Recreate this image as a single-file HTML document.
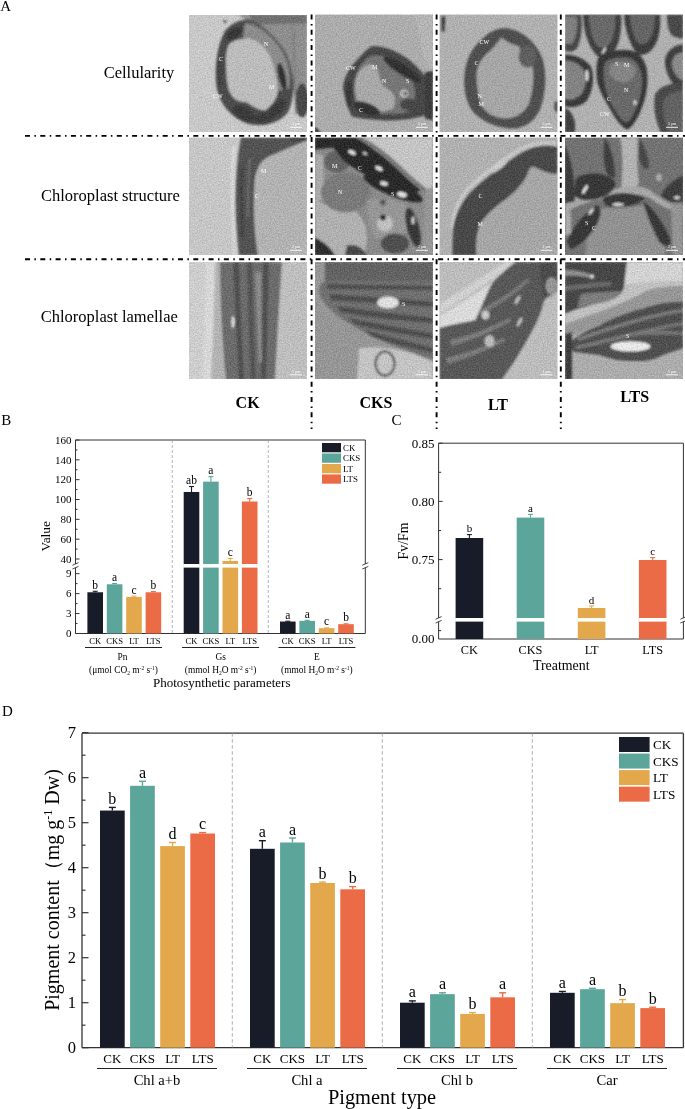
<!DOCTYPE html>
<html><head><meta charset="utf-8"><style>
html,body{margin:0;padding:0;background:#fff;}
body{width:685px;height:1109px;overflow:hidden;}
svg{display:block;will-change:transform;}
text{font-family:"Liberation Serif",serif;}
</style></head><body>
<svg width="685" height="1109" viewBox="0 0 685 1109" font-family="Liberation Serif, serif">
<text x="0.30" y="10.50" font-size="15" text-anchor="start" font-weight="normal" fill="#000" >A</text>
<text x="139.00" y="77.70" font-size="16.5" text-anchor="middle" font-weight="normal" fill="#000" >Cellularity</text>
<text x="110.40" y="201.00" font-size="16.5" text-anchor="middle" font-weight="normal" fill="#000" >Chloroplast structure</text>
<text x="109.30" y="322.00" font-size="16.5" text-anchor="middle" font-weight="normal" fill="#000" >Chloroplast lamellae</text>
<defs>
<filter id="b1" x="-5%" y="-5%" width="110%" height="110%"><feGaussianBlur stdDeviation="0.8"/></filter>
<filter id="tx" x="0" y="0" width="100%" height="100%" color-interpolation-filters="sRGB"><feTurbulence type="fractalNoise" baseFrequency="0.75" numOctaves="2" seed="5" result="n"/><feColorMatrix in="n" type="matrix" values="1 0 0 0 0  1 0 0 0 0  1 0 0 0 0  0 0 0 0 1" result="g"/><feComposite in="SourceGraphic" in2="g" operator="arithmetic" k1="0" k2="1" k3="0.26" k4="-0.13"/></filter>
</defs>
<svg x="189" y="14.5" width="118" height="117.5" viewBox="0 0 118 117.50" preserveAspectRatio="none" overflow="hidden"><g filter="url(#tx)">
<rect width="118" height="118" fill="rgb(200,200,200)"/>
<g filter="url(#b1)">
<path d="M48,0 L118,0 L118,98 L106,100 C106,80 104,60 98,44 C90,30 78,16 62,8 Z" fill="rgb(142,142,142)"/>
<path d="M60,0 L118,0 L118,9 L66,10 Z" fill="rgb(112,112,112)"/>
<path d="M37,15 C45,7 56,3 64,6 C80,14 94,30 100,46 C106,62 106,86 98,99 C88,110 72,113 58,109 C44,104 32,92 28,75 C25,58 27,30 37,15 Z" fill="rgb(76,76,76)"/>
<path d="M56,8 C72,12 86,24 94,38 C100,50 102,62 100,74 L90,76 C88,60 84,46 76,36 C70,30 62,26 54,24 Z" fill="rgb(140,140,140)"/>
<path d="M40,30 C44,26 50,24 60,24 C70,26 78,34 83,46 C86,56 89,66 89,76 C88,84 84,90 76,96 C70,96 64,92 58,88 C50,87 44,86 40,76 C37,66 37,52 37,44 C37,38 38,34 40,30 Z" fill="rgb(188,188,188)"/>
<path d="M62,8 C80,16 94,30 99,44 C103,56 105,68 106,80" fill="none" stroke="rgb(110,110,110)" stroke-width="1.6"/>
<path d="M104,6 L106,70" fill="none" stroke="rgb(125,125,125)" stroke-width="1.6"/>
<ellipse cx="55" cy="99" rx="12" ry="6.5" transform="rotate(30 55 99)" fill="rgb(58,58,58)"/>
<ellipse cx="74" cy="104" rx="9" ry="5" transform="rotate(-5 74 104)" fill="rgb(62,62,62)"/>
<ellipse cx="88" cy="94" rx="12" ry="5" transform="rotate(-50 88 94)" fill="rgb(58,58,58)"/>
<ellipse cx="93" cy="62" rx="3.6" ry="14" transform="rotate(-12 93 62)" fill="rgb(48,48,48)"/>
<ellipse cx="45" cy="19" rx="9" ry="5" transform="rotate(-35 45 19)" fill="rgb(55,55,55)"/>
<ellipse cx="31" cy="60" rx="3.5" ry="14" fill="rgb(68,68,68)"/>
<ellipse cx="113" cy="86" rx="6.5" ry="17" fill="rgb(72,72,72)"/>
<path d="M106,102 L118,106 L118,118 L100,118 Z" fill="rgb(200,200,200)"/>
<circle cx="36" cy="7" r="1.3" fill="rgb(40,40,40)"/>
</g>
<g fill="#fff" font-size="6"><text x="30" y="46">C</text><text x="24" y="83">CW</text><text x="75" y="31">N</text><text x="80" y="74">M</text></g>
</g><line x1="101" y1="112.8" x2="113" y2="112.8" stroke="#fff" stroke-width="0.9"/><text x="107" y="110.8" font-size="3.8" fill="#fff" text-anchor="middle">5 &#956;m</text></svg>
<svg x="315" y="14.5" width="118" height="117.5" viewBox="0 0 118 117.50" preserveAspectRatio="none" overflow="hidden"><g filter="url(#tx)">
<rect width="118" height="118" fill="rgb(172,172,172)"/>
<g filter="url(#b1)">
<path d="M100,0 L118,0 L118,60 L108,40 Z" fill="rgb(180,180,180)"/>
<path d="M56,32 C62,31 72,32 86,40 C98,47 106,56 112,64 L118,66 L118,104 L110,101 C100,104 85,106 70,106 C55,105 45,104 37,102 C33,95 30,85 28,74 C28,66 32,58 38,50 C44,43 50,36 56,32 Z" fill="rgb(70,70,70)"/>
<path d="M58,41 C66,40 76,44 84,50 C92,56 98,64 100,76 C101,86 98,94 92,98 C80,100 65,100 52,98 C44,96 40,90 39,80 C38,70 40,60 45,52 C49,46 53,42 58,41 Z" fill="rgb(118,118,118)"/>
<path d="M46,55 C52,48 58,48 62,55 C66,62 64,70 72,74 C80,78 82,86 78,94 C70,98 58,98 48,96 C42,90 40,80 40,70 C40,64 42,60 46,55 Z" fill="rgb(168,168,168)"/>
<ellipse cx="87" cy="55" rx="22" ry="5" transform="rotate(33 87 55)" fill="rgb(48,48,48)"/>
<ellipse cx="52" cy="94" rx="14" ry="5.5" transform="rotate(22 52 94)" fill="rgb(48,48,48)"/>
<ellipse cx="94" cy="90" rx="9" ry="6" fill="rgb(70,70,70)"/>
<ellipse cx="89" cy="79" rx="4" ry="4" fill="rgb(185,185,185)"/>
<ellipse cx="90" cy="79" rx="1.6" ry="1.6" fill="rgb(40,40,40)"/>
<ellipse cx="34" cy="80" rx="3" ry="13" fill="rgb(55,55,55)"/>
<path d="M110,58 L118,56 L118,106 L110,104 Z" fill="rgb(60,60,60)"/>
<path d="M0,112 L6,118 L0,118 Z" fill="rgb(40,40,40)"/>
</g>
<g fill="#fff" font-size="6"><text x="31" y="55">CW</text><text x="57" y="54">M</text><text x="67" y="68">N</text><text x="91" y="68">S</text><text x="44" y="97">C</text></g>
</g><line x1="101" y1="112.8" x2="113" y2="112.8" stroke="#fff" stroke-width="0.9"/><text x="107" y="110.8" font-size="3.8" fill="#fff" text-anchor="middle">5 &#956;m</text></svg>
<svg x="439.5" y="14.5" width="118.0" height="117.5" viewBox="0 0 118 117.50" preserveAspectRatio="none" overflow="hidden"><g filter="url(#tx)">
<rect width="118" height="118" fill="rgb(176,176,176)"/>
<g filter="url(#b1)">
<path d="M64,13.5 C80,14 96,26 103,44 C108,60 106,82 100,96 C94,108 84,114.5 72,114 C58,113 44,108 34,98 C26,88 24,74 25,60 C26,46 32,34 42,25 C48,19 56,14 64,13.5 Z" fill="rgb(80,80,80)"/>
<path d="M62,23 C66,27 72,30 80,32 C80,40 86,46 93,52 C95,64 93,80 89,90 C83,100 75,104 65,104 C55,103 47,99 42,91 C39,82 37,72 37,61 C37,51 43,42 51,36 C55,32 59,27 62,23 Z" fill="rgb(166,166,166)"/>
<ellipse cx="88" cy="42" rx="9" ry="11" fill="rgb(95,95,95)"/>
<path d="M2,2 L6,2 L5,17 L2,17 Z" fill="rgb(60,60,60)"/>
<path d="M115,88 L118,86 L118,98 L115,96 Z" fill="rgb(70,70,70)"/>
</g>
<g fill="#fff" font-size="6"><text x="40" y="29">CW</text><text x="35" y="50">C</text><text x="38" y="83">N</text><text x="39" y="91">M</text></g>
</g><line x1="101" y1="112.8" x2="113" y2="112.8" stroke="#fff" stroke-width="0.9"/><text x="107" y="110.8" font-size="3.8" fill="#fff" text-anchor="middle">5 &#956;m</text></svg>
<svg x="565" y="14.5" width="118" height="117.5" viewBox="0 0 118 117.50" preserveAspectRatio="none" overflow="hidden"><g filter="url(#tx)">
<rect width="118" height="118" fill="rgb(176,176,176)"/>
<g filter="url(#b1)">
<path d="M0,0 L16,0 C18,12 16,26 12,34 C8,38 4,38 0,36 Z" fill="rgb(73,73,73)"/>
<path d="M0,2 L12,2 C13,12 11,22 8,28 C5,30 2,30 0,28 Z" fill="rgb(128,128,128)"/>
<path d="M18,0 L56,0 C57,14 55,30 48,38 C44,43 38,45 33,42 C26,36 21,24 19,12 Z" fill="rgb(63,63,63)"/>
<path d="M24,0 L50,0 C51,12 49,24 44,30 C40,34 34,34 31,30 C27,24 25,14 24,6 Z" fill="rgb(105,105,105)"/>
<path d="M59,0 L95,0 C96,14 94,28 86,36 C82,40 76,42 72,39 C66,32 62,20 60,10 Z" fill="rgb(61,61,61)"/>
<path d="M65,0 L90,0 C90,12 88,22 82,28 C78,31 74,30 71,26 C68,20 66,12 65,4 Z" fill="rgb(101,101,101)"/>
<path d="M102,0 L118,0 L118,24 C112,24 106,22 104,16 C102,10 102,4 102,0 Z" fill="rgb(73,73,73)"/>
<path d="M34,42 C44,36 56,34 66,36 C74,38 80,44 82,56 C84,72 80,88 74,100 C70,108 66,114 62,115 C56,112 50,104 46,96 C40,86 34,76 32,66 C31,56 31,48 34,42 Z" fill="rgb(55,55,55)"/>
<path d="M40,48 C48,42 58,42 66,44 C74,48 77,56 77,68 C77,80 72,94 66,104 C62,110 58,108 54,102 C48,94 42,82 40,72 C38,62 38,54 40,48 Z" fill="rgb(105,105,105)"/>
<path d="M46,50 C54,46 64,46 70,52 C72,60 68,66 60,68 C52,68 46,64 44,58 Z" fill="rgb(133,133,133)"/>
<path d="M0,40 C10,40 20,44 26,52 C30,62 28,76 22,86 C16,92 8,94 0,92 Z" fill="rgb(59,59,59)"/>
<path d="M0,46 C8,46 16,50 20,58 C22,66 20,74 16,80 C10,86 4,86 0,84 Z" fill="rgb(131,131,131)"/>
<path d="M0,94 C4,94 8,100 10,108 L10,118 L0,118 Z" fill="rgb(63,63,63)"/>
<path d="M118,30 C110,30 102,36 100,44 C99,54 104,66 112,74 L118,76 Z" fill="rgb(65,65,65)"/>
<path d="M118,38 C112,38 108,42 107,48 C107,56 110,62 118,66 Z" fill="rgb(138,138,138)"/>
<path d="M118,68 C106,68 94,72 90,80 C88,92 90,106 96,118 L118,118 Z" fill="rgb(73,73,73)"/>
<path d="M118,76 C110,76 100,80 98,88 C97,98 100,108 104,118 L118,118 Z" fill="rgb(98,98,98)"/>
<ellipse cx="22" cy="61" rx="1.5" ry="6" fill="rgb(225,225,225)"/>
<ellipse cx="39" cy="36" rx="1.2" ry="4" transform="rotate(30 39 36)" fill="rgb(220,220,220)"/>
<ellipse cx="70" cy="88" rx="1.5" ry="2.5" fill="rgb(220,220,220)"/>
</g>
<g fill="#fff" font-size="6"><text x="50" y="51">S</text><text x="59" y="52">M</text><text x="59" y="77">N</text><text x="42" y="86">C</text><text x="35" y="101">CW</text></g>
</g><line x1="101" y1="112.8" x2="113" y2="112.8" stroke="#fff" stroke-width="0.9"/><text x="107" y="110.8" font-size="3.8" fill="#fff" text-anchor="middle">5 &#956;m</text></svg>
<svg x="189" y="137.5" width="118" height="117.5" viewBox="0 0 118 117.50" preserveAspectRatio="none" overflow="hidden"><g filter="url(#tx)">
<rect width="118" height="118" fill="rgb(198,198,198)"/>
<g filter="url(#b1)">
<path d="M64,0 L118,0 L118,118 L66,118 C64,100 62,80 62,60 C62,40 64,24 70,14 Z" fill="rgb(178,178,178)"/>
<path d="M52,0 L118,0 L118,3 C104,8 92,14 82,18 C72,22 68,30 66,40 C65,50 65,60 65,70 C65,84 66,100 69,118 L50,118 C48,100 46.5,80 46.5,60 C47,40 48,20 52,0 Z" fill="rgb(82,82,82)"/>
<path d="M100,0 L118,0 L118,3 L102,3 Z" fill="rgb(60,60,60)"/>
<path d="M43,10 C41.5,40 41.5,80 45,118 L47,118 C44,80 44,40 46.5,6 Z" fill="rgb(218,218,218)"/>
<path d="M60,20 C58,40 58,60 58,80 L60,80 C60,60 60,40 62,20 Z" fill="rgb(110,110,110)"/>
<path d="M52,30 C51,50 51,70 53,100 L55,100 C53,70 53,50 54,30 Z" fill="rgb(60,60,60)"/>
</g>
<g fill="#fff" font-size="6"><text x="72" y="35">M</text><text x="66" y="60">C</text></g>
</g><line x1="101" y1="112.8" x2="113" y2="112.8" stroke="#fff" stroke-width="0.9"/><text x="107" y="110.8" font-size="3.8" fill="#fff" text-anchor="middle">2 &#956;m</text></svg>
<svg x="315" y="137.5" width="118" height="117.5" viewBox="0 0 118 117.50" preserveAspectRatio="none" overflow="hidden"><g filter="url(#tx)">
<rect width="118" height="118" fill="rgb(138,138,138)"/>
<g filter="url(#b1)">
<path d="M0,16 L8,18 L9,62 L0,64 Z" fill="rgb(170,170,170)"/>
<path d="M0,62 C10,68 24,72 40,73 C48,80 52,90 52,100 L50,118 L0,118 Z" fill="rgb(176,176,176)"/>
<ellipse cx="31" cy="55" rx="25" ry="20" fill="rgb(122,122,122)"/>
<ellipse cx="22" cy="24" rx="13" ry="11" fill="rgb(100,100,100)"/>
<path d="M52,62 C62,60 76,62 90,66 C94,78 92,92 86,100 L60,100 C54,90 52,76 52,62 Z" fill="rgb(150,150,150)"/>
<ellipse cx="70" cy="86" rx="8" ry="8" fill="rgb(192,192,192)"/>
<path d="M110,52 L118,50 L118,118 L108,118 Z" fill="rgb(150,150,150)"/>
<path d="M43,0 L118,0 L118,49.5 L110,52 C106,49 100,44 92,37 C82,27 72,18 62,11 C56,6 50,3 43,0 Z" fill="rgb(196,196,196)"/>
<path d="M43,0 C50,3 56,6 62,11 C72,18 82,27 92,37 C100,44 106,49 111,53" fill="none" stroke="rgb(118,118,118)" stroke-width="3.5"/>
<path d="M0,0 L40,0 C48,4 54,8 60,13 C70,20 80,29 90,39 C96,45 102,49 106,53 C100,56 92,56 84,54 C72,50 62,44 52,38 C44,34 38,30 32,26 C26,22 22,14 18,10 L0,12 Z" fill="rgb(44,44,44)"/>
<ellipse cx="78" cy="51" rx="32" ry="7.5" transform="rotate(22 78 51)" fill="rgb(44,44,44)"/>
<ellipse cx="98" cy="90" rx="6" ry="20" transform="rotate(-15 98 90)" fill="rgb(55,55,55)"/>
<ellipse cx="80" cy="106" rx="14" ry="10" fill="rgb(80,80,80)"/>
<path d="M0,100 C8,104 16,110 20,118 L0,118 Z" fill="rgb(45,45,45)"/>
<path d="M32,108 C40,106 48,110 52,118 L30,118 Z" fill="rgb(70,70,70)"/>
<ellipse cx="37" cy="15" rx="4" ry="2" transform="rotate(25 37 15)" fill="rgb(225,225,225)"/>
<ellipse cx="50" cy="16" rx="2.5" ry="1.5" transform="rotate(25 50 16)" fill="rgb(200,200,200)"/>
<ellipse cx="64" cy="31" rx="4" ry="2" transform="rotate(25 64 31)" fill="rgb(225,225,225)"/>
<ellipse cx="69" cy="46" rx="4" ry="2" transform="rotate(15 69 46)" fill="rgb(225,225,225)"/>
<ellipse cx="87" cy="57" rx="5" ry="2.5" transform="rotate(15 87 57)" fill="rgb(228,228,228)"/>
<circle cx="68" cy="80" r="3" fill="rgb(40,40,40)"/>
<circle cx="68" cy="65" r="3" fill="rgb(90,90,90)"/>
<ellipse cx="98" cy="83" rx="1.5" ry="4" fill="rgb(210,210,210)"/>
</g>
<g fill="#fff" font-size="6"><text x="17" y="30">M</text><text x="43" y="32">C</text><text x="23" y="56">N</text><text x="76" y="58">S</text></g>
</g><line x1="101" y1="112.8" x2="113" y2="112.8" stroke="#fff" stroke-width="0.9"/><text x="107" y="110.8" font-size="3.8" fill="#fff" text-anchor="middle">2 &#956;m</text></svg>
<svg x="439.5" y="137.5" width="118.0" height="117.5" viewBox="0 0 118 117.50" preserveAspectRatio="none" overflow="hidden"><g filter="url(#tx)">
<rect width="118" height="118" fill="rgb(176,176,176)"/>
<g filter="url(#b1)">
<path d="M118,12 C100,8 84,16 70,26 C50,40 30,58 20,76 C16,90 14,104 13,118 L118,118 Z" fill="rgb(166,166,166)"/>
<path d="M118,10 C104,6 90,10 78,18 C60,30 44,42 30,56 C22,66 16,76 14,90 C13,100 13,110 13,118 L37,118 C36,106 37,96 40,88 C44,80 54,70 66,62 C76,54 84,46 88,36 C90,30 92,28 96,30 C104,34 112,37 118,36 Z" fill="rgb(74,74,74)"/>
<path d="M118,7 C104,4 90,8 78,15 C60,27 42,40 28,54 C20,64 15,76 13,90 L11,90 C12,76 18,62 26,52 C40,38 58,24 76,13 C90,5 104,2 118,5 Z" fill="rgb(205,205,205)"/>
<path d="M52,30 C58,26 64,24 68,24 C64,30 58,34 52,36 Z" fill="rgb(200,200,200)"/>
</g>
<g fill="#fff" font-size="6"><text x="39" y="60">C</text><text x="38" y="88">M</text></g>
</g><line x1="101" y1="112.8" x2="113" y2="112.8" stroke="#fff" stroke-width="0.9"/><text x="107" y="110.8" font-size="3.8" fill="#fff" text-anchor="middle">2 &#956;m</text></svg>
<svg x="565" y="137.5" width="118" height="117.5" viewBox="0 0 118 117.50" preserveAspectRatio="none" overflow="hidden"><g filter="url(#tx)">
<rect width="118" height="118" fill="rgb(114,114,114)"/>
<g filter="url(#b1)">
<path d="M55,0 L73,0 C72,16 72,32 74,46 C70,52 62,52 56,50 C58,34 58,16 55,0 Z" fill="rgb(178,178,178)"/>
<path d="M0,62 C16,58 36,54 56,50 C66,48 76,48 84,52 C92,58 100,64 110,68 L118,68 L118,74 C106,74 94,68 84,60 C74,56 62,56 50,58 C32,62 16,66 6,72 L0,78 Z" fill="rgb(168,168,168)"/>
<path d="M0,8 C6,20 10,40 10,64 L0,66 Z" fill="rgb(60,60,60)"/>
<path d="M12,40 C24,34 40,34 50,44 C52,52 44,58 30,62 C20,64 12,62 10,58 C10,50 10,44 12,40 Z" fill="rgb(55,55,55)"/>
<path d="M40,0 C46,10 50,24 50,40 C46,42 42,38 40,30 C38,20 38,10 40,0 Z" fill="rgb(65,65,65)"/>
<path d="M118,38 C108,42 100,50 96,58 C100,64 110,66 118,64 Z" fill="rgb(60,60,60)"/>
<path d="M74,0 C80,10 84,20 84,30 C80,34 76,28 74,20 Z" fill="rgb(70,70,70)"/>
<path d="M38,60 C50,54 66,54 80,60 C76,66 64,70 50,70 C42,70 38,66 38,60 Z" fill="rgb(55,55,55)"/>
<path d="M28,72 C44,70 62,70 80,68 C88,80 94,96 100,110 L100,118 L20,118 C22,100 24,86 28,72 Z" fill="rgb(145,145,145)"/>
<path d="M2,104 C8,90 18,76 32,68 C38,70 36,80 30,90 C24,100 14,108 6,112 Z" fill="rgb(55,55,55)"/>
<path d="M78,64 C88,70 98,84 106,104 C104,110 100,110 94,104 C88,92 82,80 78,64 Z" fill="rgb(55,55,55)"/>
<path d="M0,76 L6,74 L6,96 L0,98 Z" fill="rgb(170,170,170)"/>
<path d="M106,66 L118,66 L118,118 L108,118 Z" fill="rgb(148,148,148)"/>
<ellipse cx="53" cy="67" rx="6" ry="1.5" fill="rgb(230,230,230)"/>
<ellipse cx="20" cy="52" rx="1.6" ry="5" transform="rotate(30 20 52)" fill="rgb(230,230,230)"/>
<ellipse cx="26" cy="74" rx="1.5" ry="4" transform="rotate(35 26 74)" fill="rgb(220,220,220)"/>
<ellipse cx="94" cy="40" rx="3" ry="4" fill="rgb(170,170,170)"/>
<ellipse cx="112" cy="60" rx="3" ry="1.5" fill="rgb(220,220,220)"/>
</g>
<g fill="#fff" font-size="6"><text x="20" y="87">S</text><text x="27" y="92">C</text></g>
</g><line x1="101" y1="112.8" x2="113" y2="112.8" stroke="#fff" stroke-width="0.9"/><text x="107" y="110.8" font-size="3.8" fill="#fff" text-anchor="middle">2 &#956;m</text></svg>
<svg x="189" y="262" width="118" height="117" viewBox="0 0 118 117.00" preserveAspectRatio="none" overflow="hidden"><g filter="url(#tx)">
<rect width="118" height="118" fill="rgb(205,205,205)"/>
<g filter="url(#b1)">
<path d="M92,0 L118,0 L118,118 L86,118 Z" fill="rgb(190,190,190)"/>
<path d="M17,0 L26,0 L22,118 L14,118 Z" fill="rgb(215,215,215)"/>
<path d="M26,0 L32,0 C30,40 32,80 38,118 L22,118 C24,80 26,40 26,0 Z" fill="rgb(178,178,178)"/>
<path d="M31,0 L93,0 C90,40 88,80 86,118 L37,118 C33,80 31,40 31,0 Z" fill="rgb(108,108,108)"/>
<path d="M44,0 C46,40 48,80 50,118 L55,118 C53,80 51,40 50,0 Z" fill="rgb(80,80,80)"/>
<path d="M58,0 C59,40 60,80 62,118 L67,118 C65,80 64,40 63,0 Z" fill="rgb(82,82,82)"/>
<path d="M74,0 C74,40 73,80 72,118 L77,118 C78,80 79,40 80,0 Z" fill="rgb(80,80,80)"/>
<path d="M66,10 C68,40 68,70 70,100 L73,100 C72,70 72,40 72,10 Z" fill="rgb(140,140,140)"/>
<ellipse cx="44" cy="60" rx="1.5" ry="6" fill="rgb(230,230,230)"/>
</g>
</g><line x1="101" y1="112.8" x2="113" y2="112.8" stroke="#fff" stroke-width="0.9"/><text x="107" y="110.8" font-size="3.8" fill="#fff" text-anchor="middle">1 &#956;m</text></svg>
<svg x="315" y="262" width="118" height="117" viewBox="0 0 118 117.00" preserveAspectRatio="none" overflow="hidden"><g filter="url(#tx)">
<rect width="118" height="118" fill="rgb(150,150,150)"/>
<g filter="url(#b1)">
<path d="M10,0 L118,0 L118,24 L10,20 Z" fill="rgb(100,100,100)"/>
<path d="M44,86 C60,84 80,86 100,92 L118,100 L118,118 L42,118 Z" fill="rgb(195,195,195)"/>
<path d="M4,28 C4,22 8,19 14,19 L118,19 L118,98 C100,92 84,86 70,80 C50,72 30,60 16,48 C8,40 4,34 4,28 Z" fill="rgb(112,112,112)"/>
<path d="M12,22 L118,24 L118,28 L12,27 Z" fill="rgb(78,78,78)"/>
<path d="M14,32 C40,34 80,36 118,40 L118,45 C80,42 40,40 16,38 Z" fill="rgb(78,78,78)"/>
<path d="M22,44 C50,48 80,52 118,56 L118,61 C80,58 50,55 26,50 Z" fill="rgb(78,78,78)"/>
<path d="M34,56 C60,62 90,66 118,72 L118,77 C90,72 60,68 40,62 Z" fill="rgb(78,78,78)"/>
<path d="M50,68 C70,74 95,80 118,86 L118,91 C95,86 70,80 56,74 Z" fill="rgb(78,78,78)"/>
<ellipse cx="73" cy="40.5" rx="11" ry="6" fill="rgb(222,222,222)"/>
<ellipse cx="70" cy="101.6" rx="9.5" ry="12" fill="none" stroke="rgb(70,70,70)" stroke-width="2"/>
</g>
<g fill="#fff" font-size="6"><text x="87" y="44">S</text></g>
</g><line x1="101" y1="112.8" x2="113" y2="112.8" stroke="#fff" stroke-width="0.9"/><text x="107" y="110.8" font-size="3.8" fill="#fff" text-anchor="middle">1 &#956;m</text></svg>
<svg x="439.5" y="262" width="118.0" height="117" viewBox="0 0 118 117.00" preserveAspectRatio="none" overflow="hidden"><g filter="url(#tx)">
<rect width="118" height="118" fill="rgb(188,188,188)"/>
<g filter="url(#b1)">
<path d="M0,42 C20,30 44,14 66,0 L76,0 C56,16 34,30 0,52 Z" fill="rgb(208,208,208)"/>
<path d="M0,54 C14,46 30,36 50,22 C46,36 40,52 34,60 C24,62 10,64 0,66 Z" fill="rgb(218,218,218)"/>
<path d="M76,0 L118,0 L118,28 C110,32 106,36 104,40 C102,48 100,54 96,62 C90,74 84,84 78,94 C72,104 66,112 62,118 L0,118 L0,66 C14,62 28,60 36,58 C42,44 48,30 54,20 C62,12 70,4 76,0 Z" fill="rgb(88,88,88)"/>
<path d="M100,0 L118,0 L118,28 C114,34 108,36 104,34 C102,24 101,12 100,0 Z" fill="rgb(75,75,75)"/>
<path d="M10,78 C30,74 50,66 70,56 L72,59 C52,70 32,78 12,84 Z" fill="rgb(125,125,125)"/>
<path d="M6,96 C26,92 46,84 64,76 L66,79 C48,88 28,96 8,102 Z" fill="rgb(125,125,125)"/>
<path d="M40,48 C56,40 72,30 88,16 L90,19 C74,34 58,44 42,52 Z" fill="rgb(120,120,120)"/>
<ellipse cx="46" cy="53" rx="4" ry="4.5" fill="rgb(200,200,200)"/>
<ellipse cx="50" cy="79" rx="5" ry="6" fill="rgb(185,185,185)"/>
<ellipse cx="80" cy="60" rx="1.5" ry="5" transform="rotate(30 80 60)" fill="rgb(200,200,200)"/>
<ellipse cx="78" cy="38" rx="1.5" ry="5" transform="rotate(30 78 38)" fill="rgb(200,200,200)"/>
<ellipse cx="112" cy="24" rx="6" ry="9" fill="rgb(150,150,150)"/>
</g>
</g><line x1="101" y1="112.8" x2="113" y2="112.8" stroke="#fff" stroke-width="0.9"/><text x="107" y="110.8" font-size="3.8" fill="#fff" text-anchor="middle">1 &#956;m</text></svg>
<svg x="565" y="262" width="118" height="117" viewBox="0 0 118 117.00" preserveAspectRatio="none" overflow="hidden"><g filter="url(#tx)">
<rect width="118" height="118" fill="rgb(172,172,172)"/>
<g filter="url(#b1)">
<path d="M0,0 L118,0 L118,20 L62,23 Z" fill="rgb(210,210,210)"/>
<path d="M0,0 L62,0 C61,8 60,14 60,17 C59,24 58,28 57,30 C54,33 52,35 50,36 C46,38 43,39 40,40 C34,41 30,42 26,43 C20,45 15,47 10,48 L0,52 Z" fill="rgb(70,70,70)"/>
<path d="M0,8 C10,8 20,10 27,13 L26,16 C18,14 8,13 0,14 Z" fill="rgb(145,145,145)"/>
<path d="M0,24 C14,22 30,20 46,20 L46,24 C30,25 14,27 0,29 Z" fill="rgb(105,105,105)"/>
<path d="M16,32 C28,30 44,30 56,29 C54,34 48,38 40,40 C30,42 20,44 12,46 Z" fill="rgb(125,125,125)"/>
<circle cx="27" cy="14.6" r="2" fill="rgb(220,220,220)"/>
<path d="M0,52 L10,48 C20,45 30,42 40,40 C48,38 54,35 57,30 C60,26 62,24 64,22 C80,20 100,18 118,19 L118,24 C100,24 86,26 77,31 C62,40 40,48 0,62 Z" fill="rgb(192,192,192)"/>
<path d="M0,62 C40,48 62,40 77,31 C86,26 100,24 118,24 L118,40 C104,40 94,41 86,44 C70,48 52,55 34,63 C22,68 12,72 0,76 Z" fill="rgb(150,150,150)"/>
<path d="M6,80 C12,74 22,68 34,63.7 C40,60 46,57 52,55 C60,52 70,48 78,46.5 C86,44 94,41 104,40.5 C110,40 114,40 118,39.6 L118,86 C112,88 108,90 103,91 C92,96 84,99 78,99 C70,99 60,99 52,98 C44,96 38,94 34,93 C26,92 18,91 10,90 C6,88 5,84 6,80 Z" fill="rgb(80,80,80)"/>
<path d="M12,76 C40,66 80,52 118,47 L118,50 C80,56 40,70 14,79 Z" fill="rgb(125,125,125)"/>
<path d="M10,84 C40,78 80,66 118,60 L118,63 C80,70 40,82 12,87 Z" fill="rgb(120,120,120)"/>
<path d="M60,72 C80,68 100,68 118,70 L118,73 C100,72 80,72 62,75 Z" fill="rgb(118,118,118)"/>
<ellipse cx="65.5" cy="84.4" rx="20" ry="5.2" fill="rgb(232,232,232)"/>
<path d="M0,72 L7,70 L7,118 L0,118 Z" fill="rgb(62,62,62)"/>
</g>
<g fill="#fff" font-size="6"><text x="61" y="76">S</text></g>
</g><line x1="101" y1="112.8" x2="113" y2="112.8" stroke="#fff" stroke-width="0.9"/><text x="107" y="110.8" font-size="3.8" fill="#fff" text-anchor="middle">1 &#956;m</text></svg>
<text x="247.60" y="408.00" font-size="16" text-anchor="middle" font-weight="bold" fill="#000" >CK</text>
<text x="376.00" y="408.00" font-size="16" text-anchor="middle" font-weight="bold" fill="#000" >CKS</text>
<text x="498.00" y="410.00" font-size="16" text-anchor="middle" font-weight="bold" fill="#000" >LT</text>
<text x="634.70" y="402.40" font-size="16" text-anchor="middle" font-weight="bold" fill="#000" >LTS</text>
<line x1="311.60" y1="14.50" x2="311.60" y2="429.00" stroke="#000" stroke-width="1.9" stroke-dasharray="5 4.4 1.5 4.4"/>
<line x1="436.60" y1="14.50" x2="436.60" y2="429.00" stroke="#000" stroke-width="1.9" stroke-dasharray="5 4.4 1.5 4.4"/>
<line x1="560.80" y1="14.50" x2="560.80" y2="429.00" stroke="#000" stroke-width="1.9" stroke-dasharray="5 4.4 1.5 4.4"/>
<line x1="25.00" y1="135.90" x2="685.00" y2="135.90" stroke="#000" stroke-width="1.9" stroke-dasharray="5 4.4 1.5 4.4"/>
<line x1="25.00" y1="259.20" x2="685.00" y2="259.20" stroke="#000" stroke-width="1.9" stroke-dasharray="5 4.4 1.5 4.4"/>
<text x="1.20" y="425.00" font-size="15" text-anchor="start" font-weight="normal" fill="#000" >B</text>
<line x1="75.50" y1="440.00" x2="365.30" y2="440.00" stroke="#333" stroke-width="1" />
<line x1="365.30" y1="440.00" x2="365.30" y2="564.00" stroke="#333" stroke-width="1" />
<line x1="365.30" y1="567.60" x2="365.30" y2="633.50" stroke="#333" stroke-width="1" />
<line x1="75.50" y1="440.00" x2="75.50" y2="564.00" stroke="#333" stroke-width="1" />
<line x1="75.50" y1="567.60" x2="75.50" y2="633.50" stroke="#333" stroke-width="1" />
<line x1="75.50" y1="633.50" x2="365.30" y2="633.50" stroke="#333" stroke-width="1" />
<line x1="72.50" y1="565.20" x2="78.50" y2="562.60" stroke="#333" stroke-width="0.9" />
<line x1="72.50" y1="569.00" x2="78.50" y2="566.40" stroke="#333" stroke-width="0.9" />
<line x1="362.30" y1="565.20" x2="368.30" y2="562.60" stroke="#333" stroke-width="0.9" />
<line x1="362.30" y1="569.00" x2="368.30" y2="566.40" stroke="#333" stroke-width="0.9" />
<line x1="75.50" y1="559.00" x2="79.50" y2="559.00" stroke="#333" stroke-width="1" />
<text x="71.50" y="562.80" font-size="11" text-anchor="end" font-weight="normal" fill="#000" >40</text>
<line x1="75.50" y1="539.17" x2="79.50" y2="539.17" stroke="#333" stroke-width="1" />
<text x="71.50" y="542.97" font-size="11" text-anchor="end" font-weight="normal" fill="#000" >60</text>
<line x1="75.50" y1="519.33" x2="79.50" y2="519.33" stroke="#333" stroke-width="1" />
<text x="71.50" y="523.13" font-size="11" text-anchor="end" font-weight="normal" fill="#000" >80</text>
<line x1="75.50" y1="499.50" x2="79.50" y2="499.50" stroke="#333" stroke-width="1" />
<text x="71.50" y="503.30" font-size="11" text-anchor="end" font-weight="normal" fill="#000" >100</text>
<line x1="75.50" y1="479.67" x2="79.50" y2="479.67" stroke="#333" stroke-width="1" />
<text x="71.50" y="483.47" font-size="11" text-anchor="end" font-weight="normal" fill="#000" >120</text>
<line x1="75.50" y1="459.83" x2="79.50" y2="459.83" stroke="#333" stroke-width="1" />
<text x="71.50" y="463.63" font-size="11" text-anchor="end" font-weight="normal" fill="#000" >140</text>
<line x1="75.50" y1="440.00" x2="79.50" y2="440.00" stroke="#333" stroke-width="1" />
<text x="71.50" y="443.80" font-size="11" text-anchor="end" font-weight="normal" fill="#000" >160</text>
<line x1="75.50" y1="549.08" x2="77.50" y2="549.08" stroke="#333" stroke-width="1" />
<line x1="75.50" y1="529.25" x2="77.50" y2="529.25" stroke="#333" stroke-width="1" />
<line x1="75.50" y1="509.42" x2="77.50" y2="509.42" stroke="#333" stroke-width="1" />
<line x1="75.50" y1="489.58" x2="77.50" y2="489.58" stroke="#333" stroke-width="1" />
<line x1="75.50" y1="469.75" x2="77.50" y2="469.75" stroke="#333" stroke-width="1" />
<line x1="75.50" y1="449.92" x2="77.50" y2="449.92" stroke="#333" stroke-width="1" />
<line x1="75.50" y1="633.50" x2="79.50" y2="633.50" stroke="#333" stroke-width="1" />
<text x="71.50" y="637.30" font-size="11" text-anchor="end" font-weight="normal" fill="#000" >0</text>
<line x1="75.50" y1="613.55" x2="79.50" y2="613.55" stroke="#333" stroke-width="1" />
<text x="71.50" y="617.35" font-size="11" text-anchor="end" font-weight="normal" fill="#000" >3</text>
<line x1="75.50" y1="593.60" x2="79.50" y2="593.60" stroke="#333" stroke-width="1" />
<text x="71.50" y="597.40" font-size="11" text-anchor="end" font-weight="normal" fill="#000" >6</text>
<line x1="75.50" y1="573.65" x2="79.50" y2="573.65" stroke="#333" stroke-width="1" />
<text x="71.50" y="577.45" font-size="11" text-anchor="end" font-weight="normal" fill="#000" >9</text>
<line x1="75.50" y1="623.52" x2="77.50" y2="623.52" stroke="#333" stroke-width="1" />
<line x1="75.50" y1="603.58" x2="77.50" y2="603.58" stroke="#333" stroke-width="1" />
<line x1="75.50" y1="583.62" x2="77.50" y2="583.62" stroke="#333" stroke-width="1" />
<line x1="172.30" y1="440.00" x2="172.30" y2="633.50" stroke="#999" stroke-width="0.7" stroke-dasharray="3 2"/>
<line x1="268.30" y1="440.00" x2="268.30" y2="633.50" stroke="#999" stroke-width="0.7" stroke-dasharray="3 2"/>
<rect x="87.40" y="592.27" width="15.60" height="41.23" fill="#171c28" />
<line x1="95.20" y1="592.27" x2="95.20" y2="591.27" stroke="#171c28" stroke-width="1.1" />
<line x1="92.70" y1="591.27" x2="97.70" y2="591.27" stroke="#171c28" stroke-width="1.1" />
<text x="95.20" y="588.67" font-size="11.5" text-anchor="middle" font-weight="normal" fill="#000" >b</text>
<text x="95.20" y="643.60" font-size="8.6" text-anchor="middle" font-weight="normal" fill="#000" >CK</text>
<rect x="106.80" y="584.29" width="15.60" height="49.21" fill="#5ba59a" />
<line x1="114.60" y1="584.29" x2="114.60" y2="583.49" stroke="#5ba59a" stroke-width="1.1" />
<line x1="112.10" y1="583.49" x2="117.10" y2="583.49" stroke="#5ba59a" stroke-width="1.1" />
<text x="114.60" y="580.89" font-size="11.5" text-anchor="middle" font-weight="normal" fill="#000" >a</text>
<text x="114.60" y="643.60" font-size="8.6" text-anchor="middle" font-weight="normal" fill="#000" >CKS</text>
<rect x="126.20" y="596.92" width="15.60" height="36.58" fill="#e3a84b" />
<line x1="134.00" y1="596.92" x2="134.00" y2="596.13" stroke="#e3a84b" stroke-width="1.1" />
<line x1="131.50" y1="596.13" x2="136.50" y2="596.13" stroke="#e3a84b" stroke-width="1.1" />
<text x="134.00" y="593.53" font-size="11.5" text-anchor="middle" font-weight="normal" fill="#000" >c</text>
<text x="134.00" y="643.60" font-size="8.6" text-anchor="middle" font-weight="normal" fill="#000" >LT</text>
<rect x="145.60" y="592.27" width="15.60" height="41.23" fill="#ec6b47" />
<line x1="153.40" y1="592.27" x2="153.40" y2="591.61" stroke="#ec6b47" stroke-width="1.1" />
<line x1="150.90" y1="591.61" x2="155.90" y2="591.61" stroke="#ec6b47" stroke-width="1.1" />
<text x="153.40" y="589.00" font-size="11.5" text-anchor="middle" font-weight="normal" fill="#000" >b</text>
<text x="153.40" y="643.60" font-size="8.6" text-anchor="middle" font-weight="normal" fill="#000" >LTS</text>
<rect x="183.70" y="491.96" width="15.60" height="141.54" fill="#171c28" />
<rect x="183.20" y="564.00" width="16.60" height="3.60" fill="#fff" />
<line x1="191.50" y1="491.96" x2="191.50" y2="486.51" stroke="#171c28" stroke-width="1.1" />
<line x1="189.00" y1="486.51" x2="194.00" y2="486.51" stroke="#171c28" stroke-width="1.1" />
<text x="191.50" y="483.91" font-size="11.5" text-anchor="middle" font-weight="normal" fill="#000" >ab</text>
<text x="191.50" y="643.60" font-size="8.6" text-anchor="middle" font-weight="normal" fill="#000" >CK</text>
<rect x="203.10" y="481.65" width="15.60" height="151.85" fill="#5ba59a" />
<rect x="202.60" y="564.00" width="16.60" height="3.60" fill="#fff" />
<line x1="210.90" y1="481.65" x2="210.90" y2="476.69" stroke="#5ba59a" stroke-width="1.1" />
<line x1="208.40" y1="476.69" x2="213.40" y2="476.69" stroke="#5ba59a" stroke-width="1.1" />
<text x="210.90" y="474.09" font-size="11.5" text-anchor="middle" font-weight="normal" fill="#000" >a</text>
<text x="210.90" y="643.60" font-size="8.6" text-anchor="middle" font-weight="normal" fill="#000" >CKS</text>
<rect x="222.50" y="560.98" width="15.60" height="72.52" fill="#e3a84b" />
<rect x="222.00" y="564.00" width="16.60" height="3.60" fill="#fff" />
<line x1="230.30" y1="560.98" x2="230.30" y2="558.50" stroke="#e3a84b" stroke-width="1.1" />
<line x1="227.80" y1="558.50" x2="232.80" y2="558.50" stroke="#e3a84b" stroke-width="1.1" />
<text x="230.30" y="555.90" font-size="11.5" text-anchor="middle" font-weight="normal" fill="#000" >c</text>
<text x="230.30" y="643.60" font-size="8.6" text-anchor="middle" font-weight="normal" fill="#000" >LT</text>
<rect x="241.90" y="501.48" width="15.60" height="132.02" fill="#ec6b47" />
<rect x="241.40" y="564.00" width="16.60" height="3.60" fill="#fff" />
<line x1="249.70" y1="501.48" x2="249.70" y2="498.51" stroke="#ec6b47" stroke-width="1.1" />
<line x1="247.20" y1="498.51" x2="252.20" y2="498.51" stroke="#ec6b47" stroke-width="1.1" />
<text x="249.70" y="495.91" font-size="11.5" text-anchor="middle" font-weight="normal" fill="#000" >b</text>
<text x="249.70" y="643.60" font-size="8.6" text-anchor="middle" font-weight="normal" fill="#000" >LTS</text>
<rect x="280.00" y="621.53" width="15.60" height="11.97" fill="#171c28" />
<line x1="287.80" y1="621.53" x2="287.80" y2="621.20" stroke="#171c28" stroke-width="1.1" />
<line x1="285.30" y1="621.20" x2="290.30" y2="621.20" stroke="#171c28" stroke-width="1.1" />
<text x="287.80" y="618.60" font-size="11.5" text-anchor="middle" font-weight="normal" fill="#000" >a</text>
<text x="287.80" y="643.60" font-size="8.6" text-anchor="middle" font-weight="normal" fill="#000" >CK</text>
<rect x="299.40" y="620.87" width="15.60" height="12.63" fill="#5ba59a" />
<line x1="307.20" y1="620.87" x2="307.20" y2="620.33" stroke="#5ba59a" stroke-width="1.1" />
<line x1="304.70" y1="620.33" x2="309.70" y2="620.33" stroke="#5ba59a" stroke-width="1.1" />
<text x="307.20" y="617.73" font-size="11.5" text-anchor="middle" font-weight="normal" fill="#000" >a</text>
<text x="307.20" y="643.60" font-size="8.6" text-anchor="middle" font-weight="normal" fill="#000" >CKS</text>
<rect x="318.80" y="628.18" width="15.60" height="5.32" fill="#e3a84b" />
<line x1="326.60" y1="628.18" x2="326.60" y2="627.85" stroke="#e3a84b" stroke-width="1.1" />
<line x1="324.10" y1="627.85" x2="329.10" y2="627.85" stroke="#e3a84b" stroke-width="1.1" />
<text x="326.60" y="625.25" font-size="11.5" text-anchor="middle" font-weight="normal" fill="#000" >c</text>
<text x="326.60" y="643.60" font-size="8.6" text-anchor="middle" font-weight="normal" fill="#000" >LT</text>
<rect x="338.20" y="624.19" width="15.60" height="9.31" fill="#ec6b47" />
<line x1="346.00" y1="624.19" x2="346.00" y2="623.79" stroke="#ec6b47" stroke-width="1.1" />
<line x1="343.50" y1="623.79" x2="348.50" y2="623.79" stroke="#ec6b47" stroke-width="1.1" />
<text x="346.00" y="621.19" font-size="11.5" text-anchor="middle" font-weight="normal" fill="#000" >b</text>
<text x="346.00" y="643.60" font-size="8.6" text-anchor="middle" font-weight="normal" fill="#000" >LTS</text>
<line x1="85.00" y1="647.50" x2="162.00" y2="647.50" stroke="#222" stroke-width="1" />
<text x="122.50" y="660.00" font-size="9.4" text-anchor="middle" font-weight="normal" fill="#000" >Pn</text>
<text x="123.50" y="673.20" font-size="9.4" text-anchor="middle" font-weight="normal" fill="#000" >(&#956;mol CO<tspan font-size="5.5" dy="1.5">2</tspan><tspan dy="-1.5"> m</tspan><tspan font-size="5.5" dy="-3">-2</tspan><tspan dy="3"> s</tspan><tspan font-size="5.5" dy="-3">-1</tspan><tspan dy="3">)</tspan></text>
<line x1="182.10" y1="647.50" x2="259.10" y2="647.50" stroke="#222" stroke-width="1" />
<text x="220.60" y="660.00" font-size="9.4" text-anchor="middle" font-weight="normal" fill="#000" >Gs</text>
<text x="220.60" y="673.20" font-size="9.4" text-anchor="middle" font-weight="normal" fill="#000" >(mmol H<tspan font-size="5.5" dy="1.5">2</tspan><tspan dy="-1.5">O m</tspan><tspan font-size="5.5" dy="-3">-2</tspan><tspan dy="3"> s</tspan><tspan font-size="5.5" dy="-3">-1</tspan><tspan dy="3">)</tspan></text>
<line x1="278.40" y1="647.50" x2="355.40" y2="647.50" stroke="#222" stroke-width="1" />
<text x="316.90" y="660.00" font-size="9.4" text-anchor="middle" font-weight="normal" fill="#000" >E</text>
<text x="316.90" y="673.20" font-size="9.4" text-anchor="middle" font-weight="normal" fill="#000" >(mmol H<tspan font-size="5.5" dy="1.5">2</tspan><tspan dy="-1.5">O m</tspan><tspan font-size="5.5" dy="-3">-2</tspan><tspan dy="3"> s</tspan><tspan font-size="5.5" dy="-3">-1</tspan><tspan dy="3">)</tspan></text>
<text x="221.70" y="686.70" font-size="13" text-anchor="middle" font-weight="normal" fill="#000" >Photosynthetic parameters</text>
<text x="0.00" y="0.00" font-size="13.4" text-anchor="middle" font-weight="normal" fill="#000" transform="translate(50.2,536.3) rotate(-90)">Value</text>
<rect x="322.00" y="443.00" width="19.00" height="9.30" fill="#171c28" />
<text x="343.00" y="450.70" font-size="8.9" text-anchor="start" font-weight="normal" fill="#000" >CK</text>
<rect x="322.00" y="453.47" width="19.00" height="9.30" fill="#5ba59a" />
<text x="343.00" y="461.17" font-size="8.9" text-anchor="start" font-weight="normal" fill="#000" >CKS</text>
<rect x="322.00" y="463.94" width="19.00" height="9.30" fill="#e3a84b" />
<text x="343.00" y="471.64" font-size="8.9" text-anchor="start" font-weight="normal" fill="#000" >LT</text>
<rect x="322.00" y="474.41" width="19.00" height="9.30" fill="#ec6b47" />
<text x="343.00" y="482.11" font-size="8.9" text-anchor="start" font-weight="normal" fill="#000" >LTS</text>
<text x="391.50" y="425.20" font-size="15" text-anchor="start" font-weight="normal" fill="#000" >C</text>
<line x1="438.60" y1="443.20" x2="683.40" y2="443.20" stroke="#333" stroke-width="1" />
<line x1="683.40" y1="443.20" x2="683.40" y2="618.00" stroke="#333" stroke-width="1" />
<line x1="683.40" y1="621.60" x2="683.40" y2="639.00" stroke="#333" stroke-width="1" />
<line x1="438.60" y1="443.20" x2="438.60" y2="618.00" stroke="#333" stroke-width="1" />
<line x1="438.60" y1="621.60" x2="438.60" y2="639.00" stroke="#333" stroke-width="1" />
<line x1="438.60" y1="639.00" x2="683.40" y2="639.00" stroke="#333" stroke-width="1" />
<line x1="435.60" y1="619.20" x2="441.60" y2="616.60" stroke="#333" stroke-width="0.9" />
<line x1="435.60" y1="623.00" x2="441.60" y2="620.40" stroke="#333" stroke-width="0.9" />
<line x1="680.40" y1="619.20" x2="686.40" y2="616.60" stroke="#333" stroke-width="0.9" />
<line x1="680.40" y1="623.00" x2="686.40" y2="620.40" stroke="#333" stroke-width="0.9" />
<line x1="438.60" y1="443.20" x2="442.60" y2="443.20" stroke="#333" stroke-width="1" />
<text x="434.60" y="447.60" font-size="13" text-anchor="end" font-weight="normal" fill="#000" >0.85</text>
<line x1="438.60" y1="501.40" x2="442.60" y2="501.40" stroke="#333" stroke-width="1" />
<text x="434.60" y="505.80" font-size="13" text-anchor="end" font-weight="normal" fill="#000" >0.80</text>
<line x1="438.60" y1="559.60" x2="442.60" y2="559.60" stroke="#333" stroke-width="1" />
<text x="434.60" y="564.00" font-size="13" text-anchor="end" font-weight="normal" fill="#000" >0.75</text>
<line x1="438.60" y1="472.30" x2="441.10" y2="472.30" stroke="#333" stroke-width="1" />
<line x1="438.60" y1="530.50" x2="441.10" y2="530.50" stroke="#333" stroke-width="1" />
<line x1="438.60" y1="588.70" x2="441.10" y2="588.70" stroke="#333" stroke-width="1" />
<line x1="438.60" y1="630.60" x2="441.10" y2="630.60" stroke="#333" stroke-width="1" />
<text x="434.60" y="643.40" font-size="13" text-anchor="end" font-weight="normal" fill="#000" >0.00</text>
<rect x="455.60" y="538.00" width="27.60" height="101.00" fill="#171c28" />
<rect x="455.10" y="618.00" width="28.60" height="3.60" fill="#fff" />
<line x1="469.40" y1="538.00" x2="469.40" y2="534.60" stroke="#171c28" stroke-width="1.1" />
<line x1="466.90" y1="534.60" x2="471.90" y2="534.60" stroke="#171c28" stroke-width="1.1" />
<text x="469.40" y="532.40" font-size="11" text-anchor="middle" font-weight="normal" fill="#000" >b</text>
<text x="469.40" y="654.00" font-size="12.3" text-anchor="middle" font-weight="normal" fill="#000" >CK</text>
<rect x="516.70" y="517.60" width="27.60" height="121.40" fill="#5ba59a" />
<rect x="516.20" y="618.00" width="28.60" height="3.60" fill="#fff" />
<line x1="530.50" y1="517.60" x2="530.50" y2="514.40" stroke="#5ba59a" stroke-width="1.1" />
<line x1="528.00" y1="514.40" x2="533.00" y2="514.40" stroke="#5ba59a" stroke-width="1.1" />
<text x="530.50" y="512.20" font-size="11" text-anchor="middle" font-weight="normal" fill="#000" >a</text>
<text x="530.50" y="654.00" font-size="12.3" text-anchor="middle" font-weight="normal" fill="#000" >CKS</text>
<rect x="577.80" y="608.00" width="27.60" height="31.00" fill="#e3a84b" />
<rect x="577.30" y="618.00" width="28.60" height="3.60" fill="#fff" />
<line x1="591.60" y1="608.00" x2="591.60" y2="606.00" stroke="#e3a84b" stroke-width="1.1" />
<line x1="589.10" y1="606.00" x2="594.10" y2="606.00" stroke="#e3a84b" stroke-width="1.1" />
<text x="591.60" y="603.80" font-size="11" text-anchor="middle" font-weight="normal" fill="#000" >d</text>
<text x="591.60" y="654.00" font-size="12.3" text-anchor="middle" font-weight="normal" fill="#000" >LT</text>
<rect x="638.90" y="560.00" width="27.60" height="79.00" fill="#ec6b47" />
<rect x="638.40" y="618.00" width="28.60" height="3.60" fill="#fff" />
<line x1="652.70" y1="560.00" x2="652.70" y2="557.60" stroke="#ec6b47" stroke-width="1.1" />
<line x1="650.20" y1="557.60" x2="655.20" y2="557.60" stroke="#ec6b47" stroke-width="1.1" />
<text x="652.70" y="555.40" font-size="11" text-anchor="middle" font-weight="normal" fill="#000" >c</text>
<text x="652.70" y="654.00" font-size="12.3" text-anchor="middle" font-weight="normal" fill="#000" >LTS</text>
<text x="561.30" y="669.60" font-size="13.9" text-anchor="middle" font-weight="normal" fill="#000" >Treatment</text>
<text x="0.00" y="0.00" font-size="13.8" text-anchor="middle" font-weight="normal" fill="#000" transform="translate(407.8,541) rotate(-90)">Fv/Fm</text>
<text x="2.00" y="715.60" font-size="15" text-anchor="start" font-weight="normal" fill="#000" >D</text>
<line x1="82.00" y1="733.20" x2="683.40" y2="733.20" stroke="#333" stroke-width="1.3" />
<line x1="683.40" y1="733.20" x2="683.40" y2="1047.70" stroke="#333" stroke-width="1.3" />
<line x1="82.00" y1="733.20" x2="82.00" y2="1047.70" stroke="#333" stroke-width="1.3" />
<line x1="82.00" y1="1047.70" x2="683.40" y2="1047.70" stroke="#333" stroke-width="1.3" />
<line x1="82.00" y1="1047.70" x2="88.50" y2="1047.70" stroke="#333" stroke-width="1.2" />
<text x="76.00" y="1053.30" font-size="16.5" text-anchor="end" font-weight="normal" fill="#000" >0</text>
<line x1="82.00" y1="1002.70" x2="88.50" y2="1002.70" stroke="#333" stroke-width="1.2" />
<text x="76.00" y="1008.30" font-size="16.5" text-anchor="end" font-weight="normal" fill="#000" >1</text>
<line x1="82.00" y1="957.70" x2="88.50" y2="957.70" stroke="#333" stroke-width="1.2" />
<text x="76.00" y="963.30" font-size="16.5" text-anchor="end" font-weight="normal" fill="#000" >2</text>
<line x1="82.00" y1="912.70" x2="88.50" y2="912.70" stroke="#333" stroke-width="1.2" />
<text x="76.00" y="918.30" font-size="16.5" text-anchor="end" font-weight="normal" fill="#000" >3</text>
<line x1="82.00" y1="867.70" x2="88.50" y2="867.70" stroke="#333" stroke-width="1.2" />
<text x="76.00" y="873.30" font-size="16.5" text-anchor="end" font-weight="normal" fill="#000" >4</text>
<line x1="82.00" y1="822.70" x2="88.50" y2="822.70" stroke="#333" stroke-width="1.2" />
<text x="76.00" y="828.30" font-size="16.5" text-anchor="end" font-weight="normal" fill="#000" >5</text>
<line x1="82.00" y1="777.70" x2="88.50" y2="777.70" stroke="#333" stroke-width="1.2" />
<text x="76.00" y="783.30" font-size="16.5" text-anchor="end" font-weight="normal" fill="#000" >6</text>
<line x1="82.00" y1="732.70" x2="88.50" y2="732.70" stroke="#333" stroke-width="1.2" />
<text x="76.00" y="738.30" font-size="16.5" text-anchor="end" font-weight="normal" fill="#000" >7</text>
<line x1="82.00" y1="1025.20" x2="85.50" y2="1025.20" stroke="#333" stroke-width="1.2" />
<line x1="82.00" y1="980.20" x2="85.50" y2="980.20" stroke="#333" stroke-width="1.2" />
<line x1="82.00" y1="935.20" x2="85.50" y2="935.20" stroke="#333" stroke-width="1.2" />
<line x1="82.00" y1="890.20" x2="85.50" y2="890.20" stroke="#333" stroke-width="1.2" />
<line x1="82.00" y1="845.20" x2="85.50" y2="845.20" stroke="#333" stroke-width="1.2" />
<line x1="82.00" y1="800.20" x2="85.50" y2="800.20" stroke="#333" stroke-width="1.2" />
<line x1="82.00" y1="755.20" x2="85.50" y2="755.20" stroke="#333" stroke-width="1.2" />
<line x1="232.30" y1="733.20" x2="232.30" y2="1047.70" stroke="#999" stroke-width="0.8" stroke-dasharray="3.5 2.5"/>
<line x1="382.30" y1="733.20" x2="382.30" y2="1047.70" stroke="#999" stroke-width="0.8" stroke-dasharray="3.5 2.5"/>
<line x1="532.30" y1="733.20" x2="532.30" y2="1047.70" stroke="#999" stroke-width="0.8" stroke-dasharray="3.5 2.5"/>
<rect x="100.00" y="810.55" width="24.70" height="237.15" fill="#171c28" />
<line x1="112.35" y1="810.55" x2="112.35" y2="807.40" stroke="#171c28" stroke-width="1.4" />
<line x1="108.85" y1="807.40" x2="115.85" y2="807.40" stroke="#171c28" stroke-width="1.4" />
<text x="112.35" y="803.90" font-size="16" text-anchor="middle" font-weight="normal" fill="#000" >b</text>
<text x="112.35" y="1062.60" font-size="13" text-anchor="middle" font-weight="normal" fill="#000" >CK</text>
<rect x="130.10" y="785.80" width="24.70" height="261.90" fill="#5ba59a" />
<line x1="142.45" y1="785.80" x2="142.45" y2="781.30" stroke="#5ba59a" stroke-width="1.4" />
<line x1="138.95" y1="781.30" x2="145.95" y2="781.30" stroke="#5ba59a" stroke-width="1.4" />
<text x="142.45" y="777.80" font-size="16" text-anchor="middle" font-weight="normal" fill="#000" >a</text>
<text x="142.45" y="1062.60" font-size="13" text-anchor="middle" font-weight="normal" fill="#000" >CKS</text>
<rect x="160.20" y="846.10" width="24.70" height="201.60" fill="#e3a84b" />
<line x1="172.55" y1="846.10" x2="172.55" y2="842.50" stroke="#e3a84b" stroke-width="1.4" />
<line x1="169.05" y1="842.50" x2="176.05" y2="842.50" stroke="#e3a84b" stroke-width="1.4" />
<text x="172.55" y="839.00" font-size="16" text-anchor="middle" font-weight="normal" fill="#000" >d</text>
<text x="172.55" y="1062.60" font-size="13" text-anchor="middle" font-weight="normal" fill="#000" >LT</text>
<rect x="190.30" y="833.50" width="24.70" height="214.20" fill="#ec6b47" />
<line x1="202.65" y1="833.50" x2="202.65" y2="832.60" stroke="#ec6b47" stroke-width="1.4" />
<line x1="199.15" y1="832.60" x2="206.15" y2="832.60" stroke="#ec6b47" stroke-width="1.4" />
<text x="202.65" y="829.10" font-size="16" text-anchor="middle" font-weight="normal" fill="#000" >c</text>
<text x="202.65" y="1062.60" font-size="13" text-anchor="middle" font-weight="normal" fill="#000" >LTS</text>
<rect x="250.00" y="848.80" width="24.70" height="198.90" fill="#171c28" />
<line x1="262.35" y1="848.80" x2="262.35" y2="840.70" stroke="#171c28" stroke-width="1.4" />
<line x1="258.85" y1="840.70" x2="265.85" y2="840.70" stroke="#171c28" stroke-width="1.4" />
<text x="262.35" y="837.20" font-size="16" text-anchor="middle" font-weight="normal" fill="#000" >a</text>
<text x="262.35" y="1062.60" font-size="13" text-anchor="middle" font-weight="normal" fill="#000" >CK</text>
<rect x="280.10" y="842.50" width="24.70" height="205.20" fill="#5ba59a" />
<line x1="292.45" y1="842.50" x2="292.45" y2="838.00" stroke="#5ba59a" stroke-width="1.4" />
<line x1="288.95" y1="838.00" x2="295.95" y2="838.00" stroke="#5ba59a" stroke-width="1.4" />
<text x="292.45" y="834.50" font-size="16" text-anchor="middle" font-weight="normal" fill="#000" >a</text>
<text x="292.45" y="1062.60" font-size="13" text-anchor="middle" font-weight="normal" fill="#000" >CKS</text>
<rect x="310.20" y="883.00" width="24.70" height="164.70" fill="#e3a84b" />
<line x1="322.55" y1="883.00" x2="322.55" y2="882.10" stroke="#e3a84b" stroke-width="1.4" />
<line x1="319.05" y1="882.10" x2="326.05" y2="882.10" stroke="#e3a84b" stroke-width="1.4" />
<text x="322.55" y="878.60" font-size="16" text-anchor="middle" font-weight="normal" fill="#000" >b</text>
<text x="322.55" y="1062.60" font-size="13" text-anchor="middle" font-weight="normal" fill="#000" >LT</text>
<rect x="340.30" y="889.30" width="24.70" height="158.40" fill="#ec6b47" />
<line x1="352.65" y1="889.30" x2="352.65" y2="886.60" stroke="#ec6b47" stroke-width="1.4" />
<line x1="349.15" y1="886.60" x2="356.15" y2="886.60" stroke="#ec6b47" stroke-width="1.4" />
<text x="352.65" y="883.10" font-size="16" text-anchor="middle" font-weight="normal" fill="#000" >b</text>
<text x="352.65" y="1062.60" font-size="13" text-anchor="middle" font-weight="normal" fill="#000" >LTS</text>
<rect x="400.00" y="1002.70" width="24.70" height="45.00" fill="#171c28" />
<line x1="412.35" y1="1002.70" x2="412.35" y2="1000.90" stroke="#171c28" stroke-width="1.4" />
<line x1="408.85" y1="1000.90" x2="415.85" y2="1000.90" stroke="#171c28" stroke-width="1.4" />
<text x="412.35" y="997.40" font-size="16" text-anchor="middle" font-weight="normal" fill="#000" >a</text>
<text x="412.35" y="1062.60" font-size="13" text-anchor="middle" font-weight="normal" fill="#000" >CK</text>
<rect x="430.10" y="994.15" width="24.70" height="53.55" fill="#5ba59a" />
<line x1="442.45" y1="994.15" x2="442.45" y2="992.80" stroke="#5ba59a" stroke-width="1.4" />
<line x1="438.95" y1="992.80" x2="445.95" y2="992.80" stroke="#5ba59a" stroke-width="1.4" />
<text x="442.45" y="989.30" font-size="16" text-anchor="middle" font-weight="normal" fill="#000" >a</text>
<text x="442.45" y="1062.60" font-size="13" text-anchor="middle" font-weight="normal" fill="#000" >CKS</text>
<rect x="460.20" y="1013.95" width="24.70" height="33.75" fill="#e3a84b" />
<line x1="472.55" y1="1013.95" x2="472.55" y2="1012.60" stroke="#e3a84b" stroke-width="1.4" />
<line x1="469.05" y1="1012.60" x2="476.05" y2="1012.60" stroke="#e3a84b" stroke-width="1.4" />
<text x="472.55" y="1009.10" font-size="16" text-anchor="middle" font-weight="normal" fill="#000" >b</text>
<text x="472.55" y="1062.60" font-size="13" text-anchor="middle" font-weight="normal" fill="#000" >LT</text>
<rect x="490.30" y="997.30" width="24.70" height="50.40" fill="#ec6b47" />
<line x1="502.65" y1="997.30" x2="502.65" y2="992.80" stroke="#ec6b47" stroke-width="1.4" />
<line x1="499.15" y1="992.80" x2="506.15" y2="992.80" stroke="#ec6b47" stroke-width="1.4" />
<text x="502.65" y="989.30" font-size="16" text-anchor="middle" font-weight="normal" fill="#000" >a</text>
<text x="502.65" y="1062.60" font-size="13" text-anchor="middle" font-weight="normal" fill="#000" >LTS</text>
<rect x="550.00" y="992.80" width="24.70" height="54.90" fill="#171c28" />
<line x1="562.35" y1="992.80" x2="562.35" y2="991.45" stroke="#171c28" stroke-width="1.4" />
<line x1="558.85" y1="991.45" x2="565.85" y2="991.45" stroke="#171c28" stroke-width="1.4" />
<text x="562.35" y="987.95" font-size="16" text-anchor="middle" font-weight="normal" fill="#000" >a</text>
<text x="562.35" y="1062.60" font-size="13" text-anchor="middle" font-weight="normal" fill="#000" >CK</text>
<rect x="580.10" y="989.20" width="24.70" height="58.50" fill="#5ba59a" />
<line x1="592.45" y1="989.20" x2="592.45" y2="988.30" stroke="#5ba59a" stroke-width="1.4" />
<line x1="588.95" y1="988.30" x2="595.95" y2="988.30" stroke="#5ba59a" stroke-width="1.4" />
<text x="592.45" y="984.80" font-size="16" text-anchor="middle" font-weight="normal" fill="#000" >a</text>
<text x="592.45" y="1062.60" font-size="13" text-anchor="middle" font-weight="normal" fill="#000" >CKS</text>
<rect x="610.20" y="1003.15" width="24.70" height="44.55" fill="#e3a84b" />
<line x1="622.55" y1="1003.15" x2="622.55" y2="999.55" stroke="#e3a84b" stroke-width="1.4" />
<line x1="619.05" y1="999.55" x2="626.05" y2="999.55" stroke="#e3a84b" stroke-width="1.4" />
<text x="622.55" y="996.05" font-size="16" text-anchor="middle" font-weight="normal" fill="#000" >b</text>
<text x="622.55" y="1062.60" font-size="13" text-anchor="middle" font-weight="normal" fill="#000" >LT</text>
<rect x="640.30" y="1008.10" width="24.70" height="39.60" fill="#ec6b47" />
<line x1="652.65" y1="1008.10" x2="652.65" y2="1007.20" stroke="#ec6b47" stroke-width="1.4" />
<line x1="649.15" y1="1007.20" x2="656.15" y2="1007.20" stroke="#ec6b47" stroke-width="1.4" />
<text x="652.65" y="1003.70" font-size="16" text-anchor="middle" font-weight="normal" fill="#000" >b</text>
<text x="652.65" y="1062.60" font-size="13" text-anchor="middle" font-weight="normal" fill="#000" >LTS</text>
<line x1="97.00" y1="1068.50" x2="217.00" y2="1068.50" stroke="#222" stroke-width="1.2" />
<text x="157.00" y="1085.00" font-size="14.6" text-anchor="middle" font-weight="normal" fill="#000" >Chl a+b</text>
<line x1="247.00" y1="1068.50" x2="367.00" y2="1068.50" stroke="#222" stroke-width="1.2" />
<text x="307.00" y="1085.00" font-size="14.6" text-anchor="middle" font-weight="normal" fill="#000" >Chl a</text>
<line x1="397.00" y1="1068.50" x2="517.00" y2="1068.50" stroke="#222" stroke-width="1.2" />
<text x="457.00" y="1085.00" font-size="14.6" text-anchor="middle" font-weight="normal" fill="#000" >Chl b</text>
<line x1="547.00" y1="1068.50" x2="667.00" y2="1068.50" stroke="#222" stroke-width="1.2" />
<text x="607.00" y="1085.00" font-size="14.6" text-anchor="middle" font-weight="normal" fill="#000" >Car</text>
<text x="382.00" y="1103.70" font-size="20.4" text-anchor="middle" font-weight="normal" fill="#000" >Pigment type</text>
<text x="0.00" y="0.00" font-size="20" text-anchor="middle" font-weight="normal" fill="#000" transform="translate(59,890) rotate(-90)">Pigment content（mg g<tspan font-size="12" dy="-7">-1</tspan><tspan dy="7"> Dw)</tspan></text>
<rect x="619.00" y="737.00" width="30.60" height="15.00" fill="#171c28" />
<text x="653.00" y="749.00" font-size="13.2" text-anchor="start" font-weight="normal" fill="#000" >CK</text>
<rect x="619.00" y="753.55" width="30.60" height="15.00" fill="#5ba59a" />
<text x="653.00" y="765.55" font-size="13.2" text-anchor="start" font-weight="normal" fill="#000" >CKS</text>
<rect x="619.00" y="770.10" width="30.60" height="15.00" fill="#e3a84b" />
<text x="653.00" y="782.10" font-size="13.2" text-anchor="start" font-weight="normal" fill="#000" >LT</text>
<rect x="619.00" y="786.65" width="30.60" height="15.00" fill="#ec6b47" />
<text x="653.00" y="798.65" font-size="13.2" text-anchor="start" font-weight="normal" fill="#000" >LTS</text>
</svg>
</body></html>
